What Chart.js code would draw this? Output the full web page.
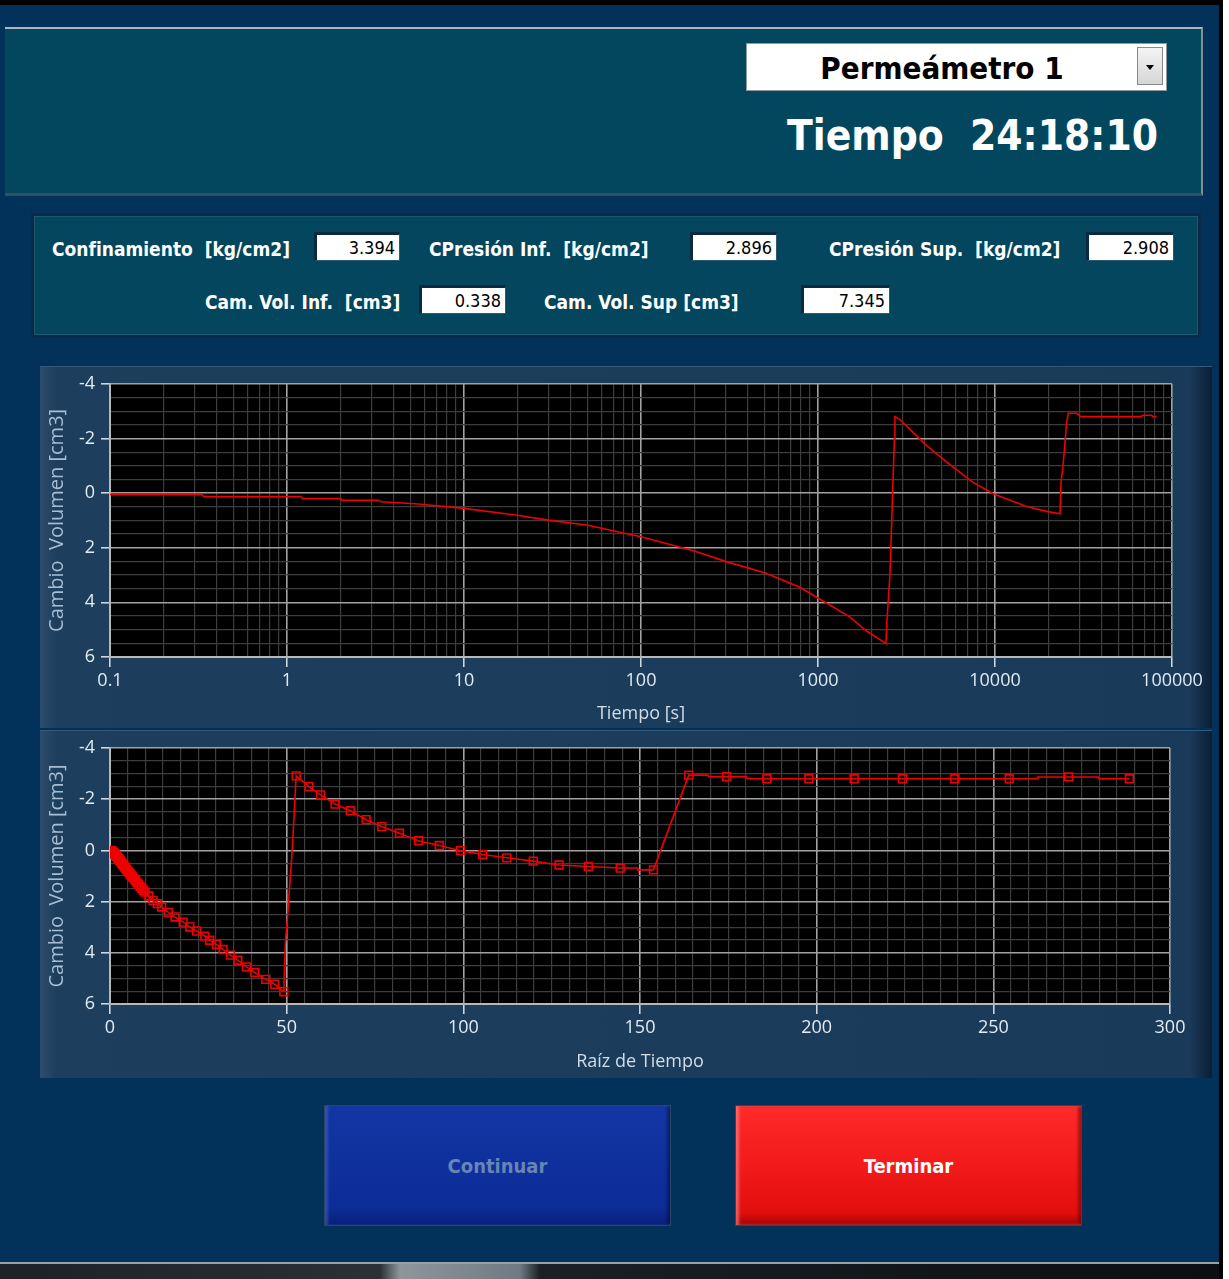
<!DOCTYPE html>
<html lang="es">
<head>
<meta charset="utf-8">
<title>Permeámetro 1</title>
<script src="https://cdn.jsdelivr.net/npm/chart.js@4.4.0/dist/chart.umd.min.js"></script>
<style>
  html, body { margin: 0; padding: 0; }
  body {
    width: 1229px; height: 1279px; position: relative; overflow: hidden;
    background: #02315a; font-family: "Liberation Sans", Arial, sans-serif;
  }
  .abs { position: absolute; }
  #bordeSup { left: 0; top: 0; width: 1229px; height: 5px; background: #000; }
  #bordeDer { left: 1219px; top: 0; width: 4px; height: 1279px; background: #000; }
  #blancoDer { left: 1223px; top: 0; width: 6px; height: 1279px; background: #fff; }
  #cabecera {
    left: 5px; top: 27px; width: 1196px; height: 164px; background: #03475e;
    border-top: 2px solid #aab7be; border-right: 2px solid #7f8f98; border-bottom: 3px solid #33505e;
  }
  #selector {
    left: 746px; top: 43px; width: 421px; height: 48px; background: #fff;
    border: 1px solid #8d9aa2; box-sizing: border-box;
  }
  #selector .txt {
    position: absolute; left: 0; width: 390px; top: 0; height: 46px; line-height: 48px;
    text-align: center; font-weight: bold; font-size: 31px; color: #000;
    font-family: "Liberation Sans Narrow", "DejaVu Sans Condensed", "Liberation Sans", sans-serif;
  }
  #selector .flecha {
    position: absolute; left: 390px; top: 3px; width: 26px; height: 38px;
    background: linear-gradient(#f4f4f4, #d6d6d6); border: 1px solid #888; box-sizing: border-box;
  }
  #selector .flecha:after {
    content: ""; position: absolute; left: 8px; top: 17px;
    border-left: 4px solid transparent; border-right: 4px solid transparent; border-top: 5px solid #000;
  }
  #tiempo {
    left: 787px; top: 109px; font-size: 42px; font-weight: bold; color: #fff;
    white-space: pre; line-height: 54px;
    font-family: "DejaVu Sans Condensed", "Liberation Sans", sans-serif;
  }
  #campos {
    left: 31px; top: 213px; width: 1170px; height: 125px; background: #03465d;
    border: 3px solid #0a2b47; box-sizing: border-box; box-shadow: inset 0 0 0 1px #1d5870;
  }
  .etq {
    position: absolute; color: #fff; font-weight: bold; font-size: 19px; white-space: pre;
    font-family: "Liberation Sans Narrow", "DejaVu Sans Condensed", "Liberation Sans", sans-serif;
    line-height: 22px;
  }
  .caja {
    position: absolute; height: 29px; background: #fff; box-sizing: border-box;
    border-top: 3px solid #0b2a40; border-left: 3px solid #0b2a40;
    border-right: 1px solid #2a5a70; border-bottom: 1px solid #2a5a70;
    text-align: right; padding-right: 4px; line-height: 25px; font-size: 18px; color: #000;
    font-family: "Liberation Sans Narrow", "DejaVu Sans Condensed", "Liberation Sans", sans-serif;
  }
  .panel {
    position: absolute; left: 40px; width: 1172px;
    background: linear-gradient(to right, #2c4d6b 0px, #1d3e5d 16px, #1a3a59 1150px, #0f2740 1165px, #0a1f33 1172px);
    border-top: 1px solid #34597a;
    box-sizing: border-box;
  }
  .panel canvas { position: absolute; left: 0; top: 0; }
  .boton {
    position: absolute; top: 1105px; width: 347px; height: 121px; box-sizing: border-box;
    text-align: center; line-height: 121px; font-weight: bold; font-size: 20px;
    font-family: "Liberation Sans Narrow", "DejaVu Sans Condensed", "Liberation Sans", sans-serif;
    border: 1px solid #2b4660;
  }
  #continuar {
    left: 324px; color: #6785b6;
    background: linear-gradient(#1236a4, #0c2c98 85%, #08207a);
    box-shadow: inset 3px 0 3px rgba(80,110,200,0.5), inset -3px 0 3px rgba(0,0,40,0.4);
  }
  #terminar {
    left: 735px; color: #fff;
    background: linear-gradient(#ff2a2a, #f21a1a 50%, #e20e0e 90%, #a00606);
    box-shadow: inset 3px 0 3px rgba(255,140,140,0.6), inset -3px 0 3px rgba(90,0,0,0.5);
  }
  #barra {
    left: 0; top: 1262px; width: 1229px; height: 17px;
    background: linear-gradient(to right, #1c2228 0, #2a3036 380px, #8e969c 400px, #6f7a82 520px, #1a2026 540px, #0b0e12 1229px);
    border-top: 2px solid #9aa2a8;
  }
</style>
</head>
<body>
<div id="bordeSup" class="abs"></div>
<div id="cabecera" class="abs"></div>
<div id="selector" class="abs"><div class="txt">Permeámetro 1</div><div class="flecha"></div></div>
<div id="tiempo" class="abs">Tiempo  24:18:10</div>

<div id="campos" class="abs"></div>
<div class="etq" style="left:52px;top:238px;">Confinamiento  [kg/cm2]</div>
<div class="caja" style="left:314px;top:232px;width:86px;">3.394</div>
<div class="etq" style="left:429px;top:238px;">CPresión Inf.  [kg/cm2]</div>
<div class="caja" style="left:690px;top:232px;width:87px;">2.896</div>
<div class="etq" style="left:829px;top:238px;">CPresión Sup.  [kg/cm2]</div>
<div class="caja" style="left:1086px;top:232px;width:88px;">2.908</div>
<div class="etq" style="left:205px;top:291px;">Cam. Vol. Inf.  [cm3]</div>
<div class="caja" style="left:419px;top:285px;width:87px;">0.338</div>
<div class="etq" style="left:544px;top:291px;">Cam. Vol. Sup [cm3]</div>
<div class="caja" style="left:801px;top:285px;width:89px;">7.345</div>

<div class="panel" style="top:366px;height:362px;"><canvas id="graficoLog" width="1172" height="362"></canvas></div>
<div class="panel" style="top:730px;height:348px;"><canvas id="graficoRaiz" width="1172" height="348"></canvas></div>

<div id="continuar" class="boton">Continuar</div>
<div id="terminar" class="boton">Terminar</div>
<div id="barra" class="abs"></div>
<div id="bordeDer" class="abs"></div>
<div id="blancoDer" class="abs"></div>

<script>
// Grafico superior: cambio de volumen contra tiempo (escala log)
const tiempoSeg = [0.1, 0.33, 0.34, 1.2, 1.22, 2.0, 2.05, 3.3, 3.4, 5.5,
  10, 20, 30, 50, 100, 200, 300, 500, 790, 1000,
  1510, 1880, 2420, 2450, 2550, 2600, 2650, 2700, 2720, 2900,
  4110, 5570, 7550, 9910, 15100, 19600, 23300, 23600, 24300, 24850,
  25400, 25950, 26300, 29000, 30500, 67500, 68000, 76700, 78000, 81800];
const cambioTiempo = [0.05, 0.05, 0.13, 0.13, 0.2, 0.2, 0.26, 0.26, 0.32, 0.4,
  0.56, 0.81, 0.99, 1.18, 1.6, 2.12, 2.5, 2.92, 3.45, 3.84,
  4.53, 5.05, 5.5, 4.7, 3.0, 1.33, -0.33, -1.96, -2.8, -2.7,
  -1.74, -1.04, -0.38, 0.04, 0.49, 0.67, 0.76, -0.37, -1.1, -1.83,
  -2.6, -2.92, -2.92, -2.92, -2.8, -2.8, -2.85, -2.85, -2.8, -2.8];

// Grafico inferior: cambio de volumen contra raiz de tiempo (puntos marcados)
const raizMarcas = [0.4, 0.6, 0.8, 1.0, 1.2, 1.4, 1.6, 1.8, 2.0, 2.2,
  2.4, 2.6, 2.8, 3.0, 3.3, 3.6, 3.9, 4.2, 4.5, 4.8,
  5.1, 5.4, 5.7, 6.0, 6.4, 6.8, 7.2, 7.6, 8.0, 8.5,
  9.0, 9.5, 9.9, 11.0, 12.2, 13.4, 14.6, 16.5, 18.4, 20.7,
  22.6, 24.5, 26.8, 28.2, 30.1, 32.0, 34.1, 36.2, 38.6, 41.0,
  44.1, 46.6, 49.2, 52.7, 56.3, 59.6, 63.7, 68.0, 72.5, 76.9,
  81.9, 87.3, 93.2, 99.2, 105.5, 112.3, 119.8, 127.1, 135.4, 144.4,
  153.8, 163.8, 174.5, 185.9, 197.8, 210.6, 224.3, 239.1, 254.5, 271.3,
  288.5];
const cambioMarcas = [0.0, 0.03, 0.06, 0.09, 0.12, 0.15, 0.19, 0.22, 0.26, 0.29,
  0.32, 0.36, 0.40, 0.43, 0.49, 0.54, 0.60, 0.65, 0.71, 0.76,
  0.82, 0.87, 0.92, 0.98, 1.04, 1.11, 1.18, 1.25, 1.32, 1.41,
  1.49, 1.57, 1.63, 1.78, 1.95, 2.08, 2.21, 2.42, 2.60, 2.80,
  2.99, 3.15, 3.35, 3.51, 3.67, 3.87, 4.09, 4.29, 4.55, 4.77,
  5.04, 5.23, 5.52, -2.91, -2.49, -2.17, -1.81, -1.55, -1.20, -0.93,
  -0.67, -0.38, -0.19, 0.01, 0.16, 0.29, 0.42, 0.57, 0.63, 0.69,
  0.76, -2.94, -2.88, -2.80, -2.80, -2.80, -2.80, -2.80, -2.80, -2.87,
  -2.80];
// lecturas intermedias sin marca (subidas y escalones de la linea)
const raizExtra = [49.6, 50.3, 50.9, 51.5, 52.0, 52.5, 149.2, 149.4,
  169.2, 169.4, 180.1, 180.3, 262.4, 262.6, 279.6, 279.8];
const cambioExtra = [3.7, 2.5, 1.3, 0.15, -1.1, -2.45, 0.69, 0.76,
  -2.94, -2.88, -2.88, -2.80, -2.80, -2.87, -2.87, -2.80];

const ticksLog = [0.1, 1, 10, 100, 1000, 10000, 100000];
const ticksRaiz = [0, 50, 100, 150, 200, 250, 300];
const ticksVol = [-4, -2, 0, 2, 4, 6];

const ROJO = '#ee0000';
const GRIS_MAYOR = '#a2a2a2';
const GRIS_MENOR = '#3d3d3d';
const TXT_TICK = '#e3ebf2';
const TXT_TITULO = '#a6bdd4';

function esMayor(lista, v) {
  return lista.some(m => Math.abs(m - v) < 1e-9 * Math.max(1, Math.abs(m)));
}

function ticksLineales(min, max, paso) {
  const out = [];
  for (let v = min; v <= max + 1e-9; v += paso) out.push({ value: Math.round(v * 1000) / 1000 });
  return out;
}

function ticksLogaritmicos() {
  const out = [];
  for (let e = -1; e <= 4; e++) {
    for (let k = 1; k <= 9; k++) out.push({ value: parseFloat((k * Math.pow(10, e)).toPrecision(3)) });
  }
  out.push({ value: 100000 });
  return out;
}

const fondoNegro = {
  id: 'fondoNegro',
  beforeDraw(chart) {
    const a = chart.chartArea;
    const ctx = chart.ctx;
    ctx.save();
    ctx.fillStyle = '#000';
    ctx.fillRect(a.left, a.top, a.right - a.left, a.bottom - a.top);
    ctx.restore();
  }
};

function ejeVol(ancho, tituloPad) {
  return {
    type: 'linear', min: -4, max: 6, reverse: true,
    afterBuildTicks: s => { s.ticks = ticksLineales(-4, 6, 0.5); },
    afterFit: s => { s.width = ancho; },
    ticks: {
      autoSkip: false, padding: 6, color: TXT_TICK,
      font: { family: 'Open Sans', size: 18 },
      callback: v => esMayor(ticksVol, v) ? String(v) : ''
    },
    grid: {
      color: c => c.tick && esMayor(ticksVol, c.tick.value) ? GRIS_MAYOR : GRIS_MENOR,
      lineWidth: c => c.tick && esMayor(ticksVol, c.tick.value) ? 1.6 : 1.2,
      tickColor: c => c.tick && esMayor(ticksVol, c.tick.value) ? '#d8e0e8' : 'rgba(0,0,0,0)',
      tickLength: 9, tickWidth: 1.5
    },
    border: { color: '#b8b8b8', width: 2 },
    title: {
      display: true, text: 'Cambio  Volumen [cm3]', color: TXT_TITULO,
      font: { family: 'Open Sans', size: 20 }, padding: { top: tituloPad, bottom: 0 }
    }
  };
}

function ejeX(opts) {
  return Object.assign({
    afterFit: s => { s.height = opts.alto; },
    ticks: {
      autoSkip: false, maxRotation: 0, padding: 3, color: TXT_TICK,
      font: { family: 'Open Sans', size: 18 },
      callback: v => esMayor(opts.mayores, v) ? String(v) : ''
    },
    grid: {
      color: c => c.tick && esMayor(opts.mayores, c.tick.value) ? GRIS_MAYOR : GRIS_MENOR,
      lineWidth: c => c.tick && esMayor(opts.mayores, c.tick.value) ? 1.6 : 1.2,
      tickColor: c => c.tick && esMayor(opts.mayores, c.tick.value) ? '#d8e0e8' : 'rgba(0,0,0,0)',
      tickLength: 10, tickWidth: 1.5
    },
    border: { color: '#b8b8b8', width: 2 },
    title: {
      display: true, text: opts.titulo, color: '#d3dde8',
      font: { family: 'Open Sans', size: 18 }, padding: { top: 0, bottom: opts.tituloPad }
    }
  }, opts.base);
}

const puntosLog = tiempoSeg.map((t, i) => ({ x: t, y: cambioTiempo[i] }));

new Chart(document.getElementById('graficoLog'), {
  type: 'scatter',
  data: {
    datasets: [{
      data: puntosLog, showLine: true, borderColor: ROJO, borderWidth: 1.6,
      pointRadius: 0, tension: 0
    }]
  },
  options: {
    responsive: false, animation: false, devicePixelRatio: 1,
    layout: { padding: { top: 16, right: 40, left: 0, bottom: 0 } },
    plugins: { legend: { display: false }, tooltip: { enabled: false } },
    scales: {
      x: ejeX({
        base: { type: 'logarithmic', min: 0.1, max: 100000,
          afterBuildTicks: s => { s.ticks = ticksLogaritmicos(); } },
        mayores: ticksLog, titulo: 'Tiempo [s]', alto: 72, tituloPad: 4
      }),
      y: ejeVol(70, 5)
    }
  },
  plugins: [fondoNegro]
});

const puntosMarcas = raizMarcas.map((r, i) => ({ x: r, y: cambioMarcas[i] }));
const puntosLinea = puntosMarcas
  .concat(raizExtra.map((r, i) => ({ x: r, y: cambioExtra[i] })))
  .sort((a, b) => a.x - b.x);

new Chart(document.getElementById('graficoRaiz'), {
  type: 'scatter',
  data: {
    datasets: [{
      data: puntosLinea, showLine: true, borderColor: ROJO, borderWidth: 1.6,
      pointRadius: 0, tension: 0
    }, {
      data: puntosMarcas, showLine: false, pointStyle: 'rect', pointRadius: 5.5,
      borderColor: ROJO, backgroundColor: 'rgba(0,0,0,0)', pointBorderWidth: 1.6
    }]
  },
  options: {
    responsive: false, animation: false, devicePixelRatio: 1,
    layout: { padding: { top: 17, right: 42, left: 0, bottom: 0 } },
    plugins: { legend: { display: false }, tooltip: { enabled: false } },
    scales: {
      x: ejeX({
        base: { type: 'linear', min: 0, max: 300,
          afterBuildTicks: s => { s.ticks = ticksLineales(0, 300, 5); } },
        mayores: ticksRaiz, titulo: 'Raíz de Tiempo', alto: 75, tituloPad: 6
      }),
      y: ejeVol(70, 5)
    }
  },
  plugins: [fondoNegro]
});
</script>
</body>
</html>
